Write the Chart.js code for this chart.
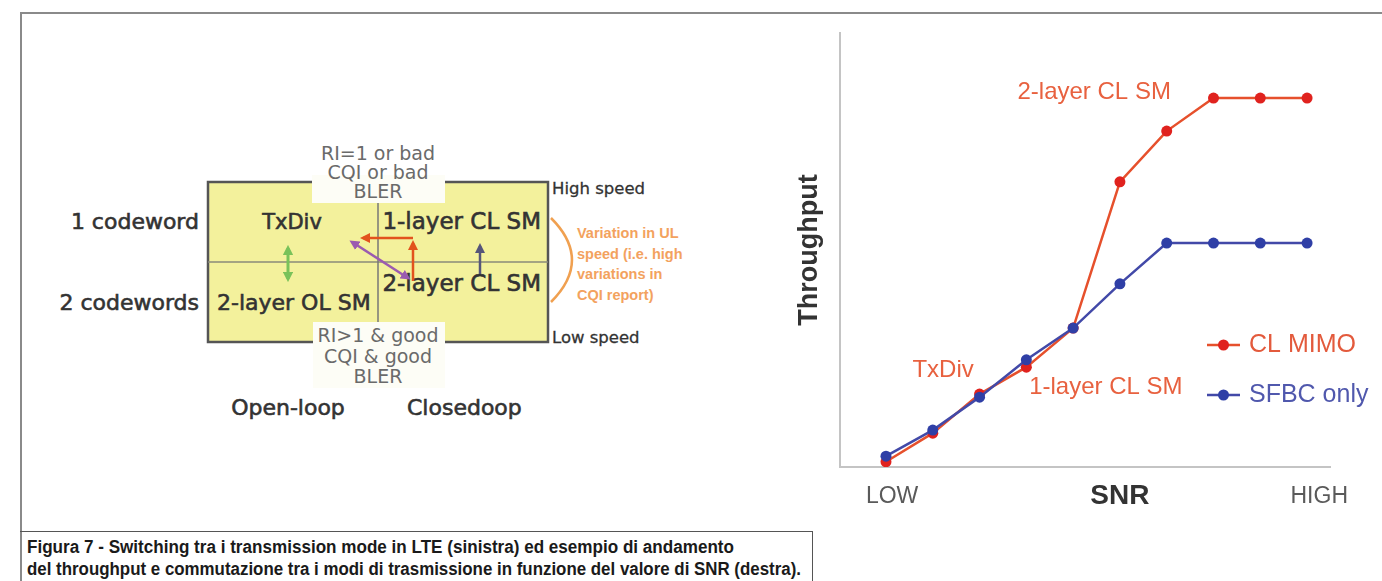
<!DOCTYPE html>
<html><head><meta charset="utf-8">
<script src="https://cdn.jsdelivr.net/npm/chart.js@4.4.1/dist/chart.umd.min.js"></script>
<style>
html,body{margin:0;padding:0;background:#fff;}
body{width:1382px;height:581px;position:relative;overflow:hidden;font-family:"DejaVu Sans",sans-serif;}
#frameTop{position:absolute;left:20px;top:12px;width:1362px;height:2px;background:#8a8a8a;}
#frameLeft{position:absolute;left:20px;top:12px;width:2px;height:569px;background:#8a8a8a;}
#capBox{position:absolute;left:20px;top:531px;width:792px;height:60px;border-top:1.5px solid #555;border-right:1.5px solid #555;}
.cap{position:absolute;left:27px;font-family:"Liberation Sans Narrow","Arial Narrow","Liberation Sans",sans-serif;font-weight:bold;font-size:18px;color:#1a1a1a;white-space:nowrap;transform-origin:0 50%;line-height:20px;}
#diagram{position:absolute;left:0;top:0;}
#chartWrap{position:absolute;left:780px;top:20px;width:602px;height:500px;}
</style></head>
<body>
<div id="frameTop"></div>
<div id="frameLeft"></div>
<svg id="diagram" width="780" height="530" xmlns="http://www.w3.org/2000/svg">
<defs>
 <marker id="mOr" viewBox="0 0 10 10" refX="7" refY="5" markerWidth="4" markerHeight="4" orient="auto-start-reverse"><path d="M0,0 L10,5 L0,10 z" fill="#e2531d"/></marker>
 <marker id="mGr" viewBox="0 0 10 10" refX="7" refY="5" markerWidth="3.5" markerHeight="3.5" orient="auto-start-reverse"><path d="M0,0 L10,5 L0,10 z" fill="#79c25a"/></marker>
 <marker id="mPu" viewBox="0 0 10 10" refX="7" refY="5" markerWidth="4" markerHeight="4" orient="auto-start-reverse"><path d="M0,0 L10,5 L0,10 z" fill="#9b5bb0"/></marker>
 <marker id="mDk" viewBox="0 0 10 10" refX="7" refY="5" markerWidth="4" markerHeight="4" orient="auto-start-reverse"><path d="M0,0 L10,5 L0,10 z" fill="#55557a"/></marker>
</defs>
<rect x="208" y="182" width="340" height="160" fill="#f3f19c" stroke="#555" stroke-width="2.5"/>
<line x1="208" y1="262" x2="548" y2="262" stroke="#8a8a7a" stroke-width="1.5"/>
<line x1="378" y1="200" x2="378" y2="325" stroke="#777" stroke-width="1.5"/>
<rect x="312" y="175" width="133" height="28" fill="#fdfdf6"/>
<rect x="313" y="322" width="132" height="66" fill="#fdfdf6"/>
<g font-family="DejaVu Sans, sans-serif" fill="#6a6a6a" font-size="19" text-anchor="middle">
 <text x="378" y="160">RI=1 or bad</text>
 <text x="378" y="179">CQI or bad</text>
 <text x="378" y="198">BLER</text>
 <text x="378" y="342">RI&gt;1 &amp; good</text>
 <text x="378" y="363">CQI &amp; good</text>
 <text x="378" y="383">BLER</text>
</g>
<g font-family="DejaVu Sans, sans-serif" fill="#333" stroke="#333" stroke-width="0.6" font-size="22">
 <text x="199" y="229" text-anchor="end">1 codeword</text>
 <text x="199" y="310" text-anchor="end">2 codewords</text>
 <text x="292" y="229" text-anchor="middle" font-size="21">TxDiv</text>
 <text x="541" y="229" text-anchor="end" font-size="23">1-layer CL SM</text>
 <text x="541" y="291" text-anchor="end" font-size="23">2-layer CL SM</text>
 <text x="217" y="310">2-layer OL SM</text>
 <text x="288" y="415" text-anchor="middle">Open-loop</text>
 <text x="407" y="415">Closedoop</text>
</g>
<g font-family="DejaVu Sans, sans-serif" fill="#333" stroke="#333" stroke-width="0.3" font-size="16.5">
 <text x="552" y="194">High speed</text>
 <text x="552" y="343">Low speed</text>
</g>
<line x1="288" y1="248" x2="288" y2="279" stroke="#79c25a" stroke-width="3" marker-start="url(#mGr)" marker-end="url(#mGr)"/>
<line x1="413" y1="281" x2="413" y2="243" stroke="#e2531d" stroke-width="2.5" marker-end="url(#mOr)"/>
<line x1="413" y1="238" x2="363" y2="238" stroke="#e2531d" stroke-width="2.5" marker-end="url(#mOr)"/>
<line x1="352" y1="242" x2="408" y2="278" stroke="#9b5bb0" stroke-width="2.5" marker-start="url(#mPu)" marker-end="url(#mPu)"/>
<line x1="480" y1="274" x2="480" y2="246" stroke="#55557a" stroke-width="2.5" marker-end="url(#mDk)"/>
<path d="M551 218 Q593 260 551 302" fill="none" stroke="#f0a050" stroke-width="2.5"/>
<g font-family="Liberation Sans, Arial, sans-serif" font-weight="bold" fill="#f3a25e" font-size="14.5">
 <text x="577" y="238">Variation in UL</text>
 <text x="577" y="259">speed (i.e. high</text>
 <text x="577" y="279">variations in</text>
 <text x="577" y="300">CQI report)</text>
</g>
</svg>
<div id="chartWrap"><canvas id="c" width="602" height="500"></canvas></div>
<div id="capBox"></div>
<div class="cap" id="cap1" style="top:537px">Figura 7 - Switching tra i transmission mode in LTE (sinistra) ed esempio di andamento</div>
<div class="cap" id="cap2" style="top:559px">del throughput e commutazione tra i modi di trasmissione in funzione del valore di SNR (destra).</div>
<script>
// ---- data ----
const snrSteps = [0, 1, 2, 3, 4, 5, 6, 7, 8, 9];
const clMimo   = [1.2, 7.8, 16.8, 23.0, 32.0, 65.7, 77.4, 85.0, 85.0, 85.0];
const sfbcOnly = [2.5, 8.5, 16.1, 24.7, 32.0, 42.2, 51.6, 51.6, 51.6, 51.6];
const seriesNames = ['CL MIMO', 'SFBC only'];
const xTickLabels = ['LOW', 'SNR', 'HIGH'];
const xTickValues = [0.13, 5.0, 9.26];
const yAxisTitle = 'Throughput';
const modeLabels = ['2-layer CL SM', 'TxDiv', '1-layer CL SM'];
const modeLabelX = [4.45, 1.22, 4.70];
const modeLabelY = [86.4, 22.3, 18.4];

// caption fitting
[['cap1', 707], ['cap2', 774]].forEach(([id, w]) => {
  const el = document.getElementById(id);
  const cw = el.getBoundingClientRect().width;
  el.style.transform = 'scaleX(' + (w / cw) + ')';
});

const modeLabelPlugin = {
  id: 'modeLabels',
  afterDatasetsDraw(chart) {
    const {ctx, scales: {x, y}} = chart;
    ctx.save();
    ctx.font = '24px "Liberation Sans", Arial, sans-serif';
    ctx.fillStyle = '#e8613f';
    ctx.textAlign = 'center';
    ctx.textBaseline = 'middle';
    modeLabels.forEach((t, i) => ctx.fillText(t, x.getPixelForValue(modeLabelX[i]), y.getPixelForValue(modeLabelY[i])));
    ctx.restore();
  }
};

const legendPlugin = {
  id: 'lineLegend',
  afterDraw(chart) {
    const {ctx, chartArea} = chart;
    const items = [
      {name: seriesNames[0], ds: chart.data.datasets[1], text: '#e35a3c', dy: 312},
      {name: seriesNames[1], ds: chart.data.datasets[0], text: '#5058ad', dy: 362}
    ];
    ctx.save();
    items.forEach(it => {
      const yy = chartArea.top + it.dy;
      const x0 = chartArea.right - 123, x1 = chartArea.right - 90;
      ctx.strokeStyle = it.ds.borderColor;
      ctx.lineWidth = 2.5;
      ctx.beginPath(); ctx.moveTo(x0, yy); ctx.lineTo(x1, yy); ctx.stroke();
      ctx.fillStyle = it.ds.pointBackgroundColor;
      ctx.beginPath(); ctx.arc((x0 + x1) / 2, yy, 5.5, 0, Math.PI * 2); ctx.fill();
      ctx.font = '25px "Liberation Sans", Arial, sans-serif';
      ctx.fillStyle = it.text;
      ctx.textAlign = 'left';
      ctx.textBaseline = 'middle';
      ctx.fillText(it.name, chartArea.right - 81, yy);
    });
    ctx.restore();
  }
};

new Chart(document.getElementById('c'), {
  type: 'line',
  data: {
    datasets: [
      {
        label: seriesNames[1],
        data: snrSteps.map((x, i) => ({x, y: sfbcOnly[i]})),
        borderColor: '#4249a8', backgroundColor: '#2f3fa6', pointBackgroundColor: '#2f3fa6',
        pointBorderWidth: 0, pointRadius: 5.5, borderWidth: 2.5, order: 0
      },
      {
        label: seriesNames[0],
        data: snrSteps.map((x, i) => ({x, y: clMimo[i]})),
        borderColor: '#e6502c', backgroundColor: '#e0221e', pointBackgroundColor: '#e0221e',
        pointBorderWidth: 0, pointRadius: 5.5, borderWidth: 2.5, order: 1
      }
    ]
  },
  options: {
    responsive: false, animation: false, devicePixelRatio: 1,
    layout: {padding: {left: 0, right: 52, top: 13, bottom: 0}},
    plugins: {legend: {display: false}, tooltip: {enabled: false}},
    scales: {
      x: {
        type: 'linear', min: -0.983, max: 9.49,
        afterBuildTicks: s => { s.ticks = xTickValues.map(v => ({value: v})); },
        afterFit: s => { s.height = 53; },
        grid: {display: false, drawTicks: false},
        border: {display: true, color: '#c4c4c4', width: 2},
        ticks: {
          padding: 12, autoSkip: false, maxRotation: 0,
          callback: (v, i) => xTickLabels[i],
          font: c => c.index === 1 ? {family: 'Liberation Sans', size: 28, weight: 'bold'} : {family: 'Liberation Sans', size: 23, lineHeight: 1.55},
          color: c => c.index === 1 ? '#333' : '#5a5a5a'
        }
      },
      y: {
        min: 0, max: 100,
        afterFit: s => { s.width = 60; },
        grid: {display: false, drawTicks: false},
        border: {display: true, color: '#c4c4c4', width: 2},
        ticks: {display: false},
        title: {display: true, text: yAxisTitle, color: '#333',
          font: {family: 'Liberation Sans', size: 27, weight: 'bold', lineHeight: 1},
          padding: {top: 16, bottom: 0}}
      }
    }
  },
  plugins: [modeLabelPlugin, legendPlugin]
});
</script>
</body></html>
